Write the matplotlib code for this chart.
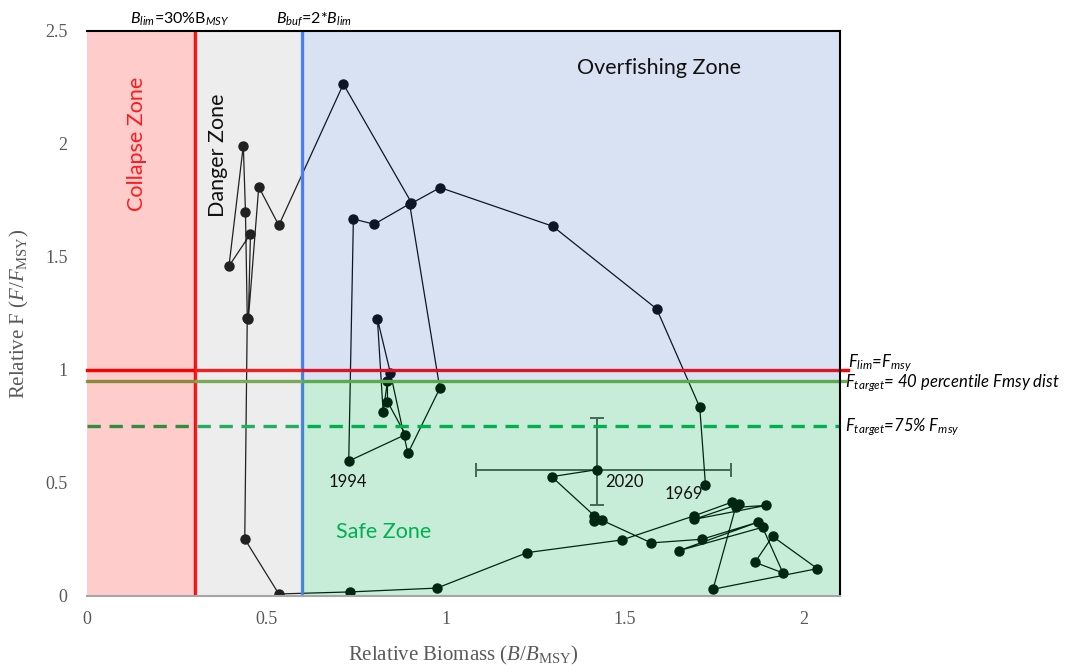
import matplotlib
matplotlib.use("Agg")
import matplotlib.pyplot as plt
from matplotlib.patches import Rectangle

plt.rcParams['mathtext.fontset'] = 'custom'
plt.rcParams['mathtext.rm'] = 'Liberation Serif'
plt.rcParams['mathtext.it'] = 'Liberation Serif:italic'
plt.rcParams['mathtext.sf'] = 'Lato:italic'
plt.rcParams['mathtext.bf'] = 'Lato'

# stock trajectory, 1969 -> 2020 (relative biomass B/Bmsy, relative F F/Fmsy)
rel_biomass = [1.725, 1.709, 1.589, 1.299, 0.985, 0.900, 0.984, 0.895, 0.846, 0.810,
               0.826, 0.838, 0.838, 0.888, 0.730, 0.743, 0.801, 0.905, 0.715, 0.535,
               0.479, 0.450, 0.456, 0.396, 0.436, 0.442, 0.447, 0.440, 0.535, 0.733,
               0.976, 1.228, 1.492, 1.692, 1.800, 1.819, 1.693, 1.895, 1.809, 1.746,
               2.037, 1.912, 1.863, 1.941, 1.884, 1.650, 1.872, 1.715, 1.574, 1.435,
               1.413, 1.415, 1.296, 1.422]
rel_f = [0.490, 0.835, 1.270, 1.636, 1.807, 1.733, 0.919, 0.631, 0.988, 1.226,
         0.813, 0.951, 0.860, 0.714, 0.597, 1.668, 1.645, 1.740, 2.265, 1.640,
         1.810, 1.224, 1.602, 1.460, 1.993, 1.698, 1.230, 0.252, 0.009, 0.018,
         0.035, 0.192, 0.248, 0.354, 0.416, 0.407, 0.339, 0.401, 0.392, 0.030,
         0.121, 0.264, 0.149, 0.102, 0.304, 0.200, 0.327, 0.251, 0.235, 0.336,
         0.330, 0.355, 0.528, 0.559]

# 2020 uncertainty
b_err = [0.336, 0.373]
f_err = [0.155, 0.230]

# reference points
b_lim = 0.3
b_buf = 0.6
f_lim = 1.0
f_target40 = 0.95
f_target75 = 0.75

x_ticks = [0, 0.5, 1, 1.5, 2]
x_tick_labels = ['0', '0.5', '1', '1.5', '2']
y_ticks = [0, 0.5, 1, 1.5, 2, 2.5]
y_tick_labels = ['0', '0.5', '1', '1.5', '2', '2.5']

fig = plt.figure(figsize=(10.7, 6.72), dpi=100)
ax = fig.add_axes([0.0813, 0.1131, 0.7037, 0.8408])
ax.set_xlim(0, 2.1)
ax.set_ylim(0, 2.5)

# trajectory
ax.plot(rel_biomass, rel_f, '-o', color='black', lw=0.9, ms=6.5, zorder=2)
ax.errorbar(rel_biomass[-1], rel_f[-1], xerr=[[b_err[0]], [b_err[1]]],
            yerr=[[f_err[0]], [f_err[1]]], fmt='none', ecolor='#555555',
            elinewidth=1.4, capsize=5, capthick=1.4, zorder=1.5)

# reference lines
ax.plot([b_lim, b_lim], [0, 2.5], color='#ff0000', lw=2.4, zorder=3)
ax.plot([b_buf, b_buf], [0, 2.5], color='#4a7ef5', lw=2.4, zorder=3)
ax.plot([0, 2.122], [f_lim, f_lim], color='#ff0000', lw=2.4, zorder=3, clip_on=False)
ax.plot([0, 2.115], [f_target40, f_target40], color='#70ad47', lw=2.4, zorder=3, clip_on=False)
ax.plot([0, 2.1], [f_target75, f_target75], color='#00b050', lw=2.4,
        ls=(0, (4, 2.6)), zorder=3)

# zone shading (drawn over the data, like the original)
ax.add_patch(Rectangle((0, 0), b_lim, 2.5, fc='#ff0000', alpha=0.2, lw=0, zorder=4))
ax.add_patch(Rectangle((b_lim, 0), b_buf - b_lim, 2.5, fc='#a6a6a6', alpha=0.2, lw=0, zorder=4))
ax.add_patch(Rectangle((b_buf, f_target40), 2.1 - b_buf, 2.5 - f_target40,
                       fc='#4472c4', alpha=0.2, lw=0, zorder=4))
ax.add_patch(Rectangle((b_buf, 0), 2.1 - b_buf, f_target40,
                       fc='#00b050', alpha=0.22, lw=0, zorder=4))

# zone names
zkw = dict(family='Lato', fontsize=15.5, zorder=6, ha='center', va='center')
ax.text(0.139, 2.0, 'Collapse Zone', color='#ff1a1a', rotation=90, **zkw)
ax.text(0.365, 1.95, 'Danger Zone', color='#111111', rotation=90, **zkw)
ax.text(1.595, 2.336, 'Overfishing Zone', color='#111111', **zkw)
ax.text(0.828, 0.283, 'Safe Zone', color='#00b050', **zkw)

# year labels
ykw = dict(family='Lato', fontsize=12, color='#111111', zorder=6, ha='center', va='center')
ax.text(0.728, 0.504, '1994', **ykw)
ax.text(1.50, 0.504, '2020', **ykw)
ax.text(1.664, 0.453, '1969', **ykw)

# reference point labels
ax.text(0.26, 2.515, r'$\mathsf{B}_{\mathsf{lim}}$=30%B$_{\mathsf{MSY}}$', family='Lato',
        fontsize=11.5, ha='center', va='bottom', clip_on=False)
ax.text(0.633, 2.515, r'$\mathsf{B}_{\mathsf{buf}}$=2*$\mathsf{B}_{\mathsf{lim}}$', family='Lato',
        fontsize=11.5, ha='center', va='bottom', clip_on=False)
rkw = dict(family='Lato', style='italic', fontsize=12, ha='left', va='center', clip_on=False)
ax.text(2.122, 1.03, r'F$_{\mathsf{lim}}$=F$_{\mathsf{msy}}$', **rkw)
ax.text(2.113, 0.94, r'F$_{\mathsf{target}}$= 40 percentile Fmsy dist', **rkw)
ax.text(2.113, 0.748, r'F$_{\mathsf{target}}$=75% F$_{\mathsf{msy}}$', **rkw)

# axes styling
ax.set_xticks(x_ticks)
ax.set_xticklabels(x_tick_labels)
ax.set_yticks(y_ticks)
ax.set_yticklabels(y_tick_labels)
ax.tick_params(length=0, labelsize=13, labelcolor='#595959')
ax.tick_params(axis='x', pad=11)
ax.tick_params(axis='y', pad=14)
for lab in ax.get_xticklabels() + ax.get_yticklabels():
    lab.set_family('Liberation Serif')
ax.set_xlabel(r'Relative Biomass $(B/B_{\mathrm{MSY}})$', family='Liberation Serif',
              fontsize=15, color='#595959', labelpad=11)
ax.set_ylabel(r'Relative F $(F/F_{\mathrm{MSY}})$', family='Liberation Serif',
              fontsize=15, color='#595959', labelpad=10)

ax.spines['left'].set_visible(False)
ax.spines['bottom'].set_color('#a6a6a6')
ax.spines['bottom'].set_linewidth(1.5)
for s in ['top', 'right']:
    ax.spines[s].set_color('black')
    ax.spines[s].set_linewidth(1.5)
for s in ax.spines.values():
    s.set_zorder(7)

fig.savefig('out.png', dpi=100)
